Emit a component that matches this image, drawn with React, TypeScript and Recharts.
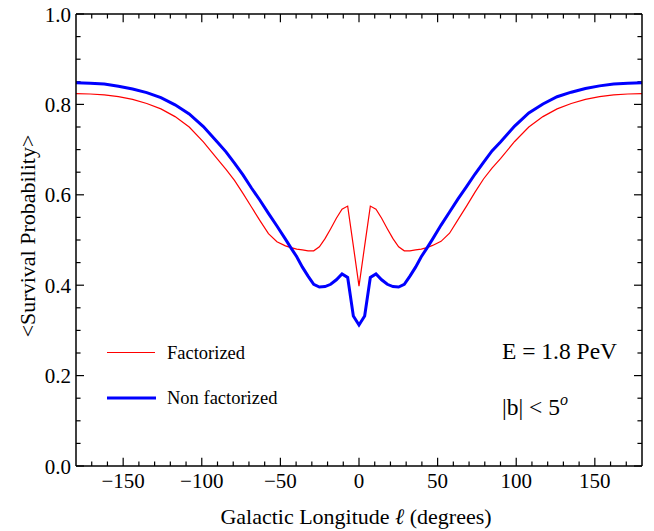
import React from "react";
import { LineChart, Line, XAxis, YAxis, ReferenceLine } from "recharts";

const FONT = '"Liberation Serif", "DejaVu Serif", "Times New Roman", serif';

// Galactic longitude sample points (degrees)
const longitude = [
  -180, -171, -162, -153, -144, -135, -126, -117, -108, -99, -90, -84.6, -79.2, -73.8, -68.4, -63, -57.6, -52.2,
  -46.8, -43.2, -39.6, -36, -32.4, -28.8, -25.2, -21.6, -18, -14.4, -10.8, -7.2, -3.6, 0, 3.6, 7.2, 10.8, 14.4, 18,
  21.6, 25.2, 28.8, 32.4, 36, 39.6, 43.2, 46.8, 52.2, 57.6, 63, 68.4, 73.8, 79.2, 84.6, 90, 99, 108, 117, 126, 135,
  144, 153, 162, 171, 180,
];

// <Survival Probability>, factorized (thin red)
const factorized = [
  0.824, 0.823, 0.821, 0.817, 0.811, 0.802, 0.79, 0.773, 0.75, 0.717, 0.679, 0.656, 0.632, 0.603, 0.573, 0.543,
  0.514, 0.496, 0.487, 0.483, 0.48, 0.478, 0.476, 0.476, 0.485, 0.503, 0.525, 0.548, 0.568, 0.575, 0.487, 0.398,
  0.487, 0.575, 0.568, 0.548, 0.525, 0.503, 0.485, 0.476, 0.476, 0.478, 0.48, 0.483, 0.488, 0.497, 0.515, 0.545,
  0.575, 0.606, 0.635, 0.659, 0.68, 0.718, 0.75, 0.773, 0.79, 0.802, 0.811, 0.817, 0.821, 0.823, 0.824,
];

// <Survival Probability>, non factorized (thick blue)
const nonFactorized = [
  0.848, 0.847, 0.845, 0.84, 0.834, 0.826, 0.815, 0.799, 0.779, 0.751, 0.716, 0.695, 0.67, 0.644, 0.615, 0.588,
  0.559, 0.531, 0.502, 0.482, 0.463, 0.44, 0.42, 0.402, 0.396, 0.397, 0.402, 0.412, 0.425, 0.417, 0.332, 0.312,
  0.332, 0.417, 0.425, 0.412, 0.402, 0.397, 0.396, 0.402, 0.42, 0.44, 0.463, 0.482, 0.502, 0.533, 0.562, 0.591,
  0.618, 0.646, 0.672, 0.697, 0.717, 0.752, 0.781, 0.801, 0.817, 0.827, 0.835, 0.841, 0.845, 0.847, 0.848,
];

const xMinor = [
  -170, -160, -140, -130, -120, -110, -90, -80, -70, -60, -40, -30, -20, -10, 10, 20, 30, 40, 60, 70, 80, 90, 110,
  120, 130, 140, 160, 170,
];
const xMajor = [-150, -100, -50, 0, 50, 100, 150];

const yMinor = [0.05, 0.1, 0.15, 0.25, 0.3, 0.35, 0.45, 0.5, 0.55, 0.65, 0.7, 0.75, 0.85, 0.9, 0.95];
const yMajor = [0, 0.2, 0.4, 0.6, 0.8, 1];

const data = longitude.map((l, i) => ({ l, fact: factorized[i], nonfact: nonFactorized[i] }));

// tick lengths in data units (plot is 566 x 452 px for 360 deg x 1.0)
const X_MAJ = 5.1;
const X_MIN = 2.9;
const Y_MAJ = 0.018;
const Y_MIN = 0.01;

const fmtX = (v: number) => (v < 0 ? `\u2212${Math.abs(v)}` : `${v}`);

function BottomLabel({ x, y, payload }: any) {
  return (
    <text x={x} y={y + 22} textAnchor="middle" style={{ fontFamily: FONT }} fontSize={21} fill="#000">
      {fmtX(payload.value)}
    </text>
  );
}

function LeftLabel({ x, y, payload }: any) {
  return (
    <text x={x - 5} y={y + 7.5} textAnchor="end" style={{ fontFamily: FONT }} fontSize={21} fill="#000">
      {payload.value.toFixed(1)}
    </text>
  );
}

function tickSeg(key: string, seg: { x: number; y: number }[]) {
  return (
    <ReferenceLine
      key={key}
      xAxisId="b"
      yAxisId="l"
      segment={seg}
      stroke="#000"
      strokeWidth={1.2}
      ifOverflow="visible"
    />
  );
}

export default function App() {
  const axisLine = { stroke: "#000", strokeWidth: 1.5 };
  const ticks: React.ReactNode[] = [];
  [...xMajor, ...xMinor].forEach((v) => {
    const len = xMajor.includes(v) ? Y_MAJ : Y_MIN;
    ticks.push(tickSeg(`xb${v}`, [{ x: v, y: 0 }, { x: v, y: len }]));
    ticks.push(tickSeg(`xt${v}`, [{ x: v, y: 1 }, { x: v, y: 1 - len }]));
  });
  [...yMajor, ...yMinor].forEach((v) => {
    const len = yMajor.includes(v) ? X_MAJ : X_MIN;
    ticks.push(tickSeg(`yl${v}`, [{ x: -180, y: v }, { x: -180 + len, y: v }]));
    ticks.push(tickSeg(`yr${v}`, [{ x: 180, y: v }, { x: 180 - len, y: v }]));
  });

  return (
    <div style={{ position: "absolute", left: 0, top: 0, width: 654, height: 531, background: "#fff" }}>
      <LineChart width={654} height={531} data={data} margin={{ top: 13, right: 11, bottom: 0, left: 0 }}>
        <XAxis
          xAxisId="b"
          dataKey="l"
          type="number"
          domain={[-180, 180]}
          ticks={xMajor}
          interval={0}
          tickSize={0}
          tickMargin={0}
          tickLine={false}
          axisLine={axisLine}
          tick={<BottomLabel />}
          height={65}
        />
        <XAxis
          xAxisId="t"
          orientation="top"
          type="number"
          domain={[-180, 180]}
          tick={false}
          tickLine={false}
          axisLine={axisLine}
          height={1}
        />
        <YAxis
          yAxisId="l"
          type="number"
          domain={[0, 1]}
          ticks={yMajor}
          interval={0}
          tickSize={0}
          tickMargin={0}
          tickLine={false}
          axisLine={axisLine}
          tick={<LeftLabel />}
          width={76}
        />
        <YAxis
          yAxisId="r"
          orientation="right"
          type="number"
          domain={[0, 1]}
          tick={false}
          tickLine={false}
          axisLine={axisLine}
          width={1}
        />
        {ticks}
        <Line
          xAxisId="b"
          yAxisId="l"
          type="linear"
          dataKey="fact"
          stroke="#ff0000"
          strokeWidth={1.2}
          dot={false}
          isAnimationActive={false}
        />
        <Line
          xAxisId="b"
          yAxisId="l"
          type="linear"
          dataKey="nonfact"
          stroke="#0000ff"
          strokeWidth={3}
          dot={false}
          isAnimationActive={false}
        />
      </LineChart>

      {/* titles, legend and annotations */}
      <svg
        width={654}
        height={531}
        style={{ position: "absolute", left: 0, top: 0, pointerEvents: "none", fontFamily: FONT }}
        fill="#000"
      >
        <text x={356} y={524} textAnchor="middle" fontSize={22}>
          Galactic Longitude <tspan fontStyle="italic">ℓ</tspan>{"  "}(degrees)
        </text>
        <text transform="translate(35,236) rotate(-90)" textAnchor="middle" fontSize={22}>
          {"<Survival  Probability>"}
        </text>

        <line x1={107} x2={155} y1={352.5} y2={352.5} stroke="#ff0000" strokeWidth={1.2} />
        <text x={167} y={359} fontSize={18.5}>Factorized</text>
        <line x1={107} x2={156} y1={398} y2={398} stroke="#0000ff" strokeWidth={3} />
        <text x={167} y={404} fontSize={18.5}>Non factorized</text>

        <text x={502} y={359} fontSize={23.5}>E = 1.8 PeV</text>
        <text x={502} y={415} fontSize={23.5}>
          |b| &lt; 5<tspan fontStyle="italic" fontSize={16} dy={-10}>o</tspan>
        </text>
      </svg>
    </div>
  );
}
